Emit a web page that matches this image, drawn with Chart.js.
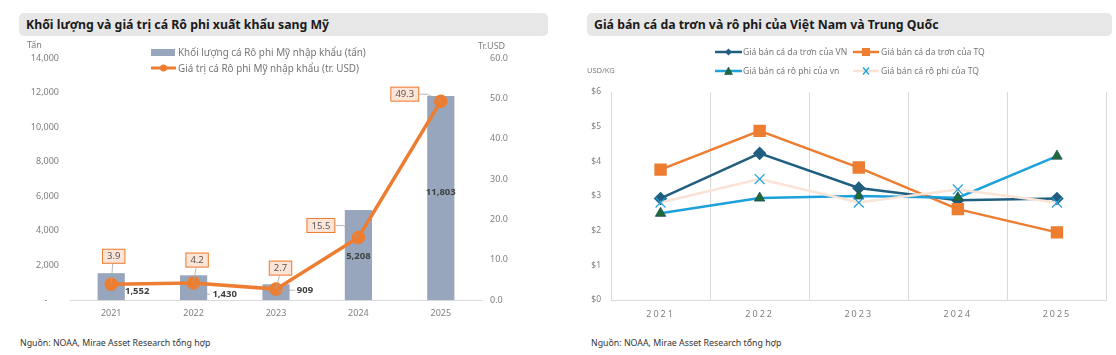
<!DOCTYPE html>
<html>
<head>
<meta charset="utf-8">
<script src="https://cdn.jsdelivr.net/npm/chart.js@4.4.1/dist/chart.umd.min.js"></script>
<style>
  html, body { margin:0; padding:0; background:#ffffff; }
  body { width:1116px; height:355px; position:relative; overflow:hidden; font-family:'Noto Sans', sans-serif; }
  .abs { position:absolute; white-space:nowrap; }
  .titlebar { position:absolute; background:#E7E7E7; border-radius:5px; height:23px; }
  .titlebar span { position:absolute; left:7px; top:3px; font-weight:bold; font-size:12.3px; color:#1a1a1a; }
  .note { font-size:8.8px; color:#333; }
  .axt { font-size:9px; color:#7f7f7f; }
  .leg { font-size:9.5px; color:#767676; line-height:12px; }
  .legL { font-size:9.9px; }
  .legR { font-size:8.6px; }
  canvas { position:absolute; top:0; }
</style>
</head>
<body>
<div class="titlebar" style="left:19px; top:13px; width:529px;"><span>Khối lượng và giá trị cá Rô phi xuất khẩu sang Mỹ</span></div>
<div class="titlebar" style="left:587px; top:13px; width:525px;"><span>Giá bán cá da trơn và rô phi của Việt Nam và Trung Quốc</span></div>

<canvas id="c1" width="558" height="330" style="left:0px;"></canvas>
<canvas id="c2" width="558" height="330" style="left:558px;"></canvas>

<div class="abs axt" style="left:27px; top:38px;">Tấn</div>
<div class="abs axt" style="left:478px; top:39px;">Tr.USD</div>
<div class="abs axt" style="left:587px; top:65px; font-size:7.5px;">USD/KG</div>

<!-- left legend -->
<div class="abs leg legL" style="left:151px; top:45px;">
  <svg width="25" height="10" style="vertical-align:middle"><rect x="0" y="2" width="24" height="7" fill="#97A6BD"/></svg><span style="vertical-align:middle; margin-left:2px;" id="lg1"></span>
</div>
<div class="abs leg legL" style="left:151px; top:61px;">
  <svg width="25" height="10" style="vertical-align:middle"><line x1="0" y1="5" x2="25" y2="5" stroke="#ED7D31" stroke-width="3"/><circle cx="12.5" cy="5" r="3.5" fill="#ED7D31"/></svg><span style="vertical-align:middle; margin-left:2px;" id="lg2"></span>
</div>

<!-- right legend -->
<div class="abs leg legR" style="left:715px; top:45px;">
  <svg width="27" height="10" style="vertical-align:middle"><line x1="0" y1="5" x2="27" y2="5" stroke="#215F80" stroke-width="2.5"/><polygon points="13.5,1.5 17,5 13.5,8.5 10,5" fill="#215F80"/></svg><span style="vertical-align:middle; margin-left:1px;" id="lg3"></span>
</div>
<div class="abs leg legR" style="left:853px; top:45px;">
  <svg width="26" height="10" style="vertical-align:middle"><line x1="0" y1="5" x2="26" y2="5" stroke="#ED7D31" stroke-width="2.5"/><rect x="9" y="1" width="8" height="8" fill="#ED7D31"/></svg><span style="vertical-align:middle; margin-left:2px;" id="lg4"></span>
</div>
<div class="abs leg legR" style="left:715px; top:64px;">
  <svg width="27" height="10" style="vertical-align:middle"><line x1="0" y1="5" x2="27" y2="5" stroke="#1DA1DB" stroke-width="2.5"/><polygon points="13.5,1 17.5,8.5 9.5,8.5" fill="#1E6B35" stroke="#1F4E5F" stroke-width="0.6"/></svg><span style="vertical-align:middle; margin-left:1px;" id="lg5"></span>
</div>
<div class="abs leg legR" style="left:853px; top:64px;">
  <svg width="26" height="10" style="vertical-align:middle"><line x1="0" y1="5" x2="26" y2="5" stroke="#FBE3D6" stroke-width="2.5"/><line x1="10" y1="1.5" x2="16" y2="8.5" stroke="#1DA1DB" stroke-width="1.2"/><line x1="16" y1="1.5" x2="10" y2="8.5" stroke="#1DA1DB" stroke-width="1.2"/></svg><span style="vertical-align:middle; margin-left:2px;" id="lg6"></span>
</div>

<div class="abs note" style="left:20px; top:337px;">Nguồn: NOAA, Mirae Asset Research tổng hợp</div>
<div class="abs note" style="left:591px; top:337px;">Nguồn: NOAA, Mirae Asset Research tổng hợp</div>

<script>
// ---------------- DATA ----------------
const years = ['2021', '2022', '2023', '2024', '2025'];

// Left chart
const volumeLabel = 'Khối lượng cá Rô phi Mỹ nhập khẩu (tấn)';
const valueLabel = 'Giá trị cá Rô phi Mỹ nhập khẩu (tr. USD)';
const volumeTons = [1552, 1430, 909, 5208, 11803];
const valueMillionUSD = [3.9, 4.2, 2.7, 15.5, 49.3];
const volumeTicks = [0, 2000, 4000, 6000, 8000, 10000, 12000, 14000];
const valueTicks = [0, 10, 20, 30, 40, 50, 60];

// Right chart
const seriesNames = [
  'Giá bán cá da trơn của VN',
  'Giá bán cá da trơn của TQ',
  'Giá bán cá rô phi của vn',
  'Giá bán cá rô phi của TQ'
];
const vnCatfish = [2.93, 4.23, 3.23, 2.88, 2.93];
const cnCatfish = [3.76, 4.88, 3.82, 2.62, 1.95];
const vnTilapia = [2.50, 2.94, 3.00, 2.95, 4.15];
const cnTilapia = [2.81, 3.49, 2.81, 3.19, 2.81];
const priceTicks = [0, 1, 2, 3, 4, 5, 6];

// ---------------- STYLE ----------------
document.getElementById('lg1').textContent = volumeLabel;
document.getElementById('lg2').textContent = valueLabel;
['lg3','lg4','lg5','lg6'].forEach((id, i) => document.getElementById(id).textContent = seriesNames[i]);

Chart.defaults.font.family = "'Noto Sans', sans-serif";
Chart.defaults.animation = false;

// label placement (relative offsets in px from the mark)
const valueBoxOffsets = [[2.5, -28], [3.5, -23], [4.5, -21], [-37.5, -12], [-36, -7]];
const volumeLabelOffsets = [[26, 4.5], [31, 6.5], [29, -2], [0, 1], [0, -6]];

const labelPlugin = {
  id: 'labels1',
  afterDatasetsDraw(chart) {
    const ctx = chart.ctx;
    const barMeta = chart.getDatasetMeta(0);
    const lineMeta = chart.getDatasetMeta(1);
    ctx.save();
    // bar value labels
    ctx.font = "bold 9.5px 'Noto Sans', sans-serif";
    ctx.fillStyle = '#404040';
    ctx.textAlign = 'center';
    ctx.textBaseline = 'middle';
    barMeta.data.forEach((bar, i) => {
      const mid = (bar.y + bar.base) / 2;
      const lx = bar.x + volumeLabelOffsets[i][0];
      const ly = mid + volumeLabelOffsets[i][1];
      const txt = volumeTons[i].toLocaleString('en-US');
      if (i === 1 || i === 2) {
        const w = ctx.measureText(txt).width;
        const p = lineMeta.data[i];
        ctx.strokeStyle = '#A6A6A6';
        ctx.lineWidth = 0.8;
        ctx.beginPath();
        ctx.moveTo(p.x + 2, p.y + 2);
        ctx.lineTo(lx - w / 2 - 7, ly);
        ctx.lineTo(lx - w / 2 - 2, ly);
        ctx.stroke();
      }
      ctx.fillText(txt, lx, ly);
    });
    // line value boxes
    ctx.font = "9.5px 'Noto Sans', sans-serif";
    lineMeta.data.forEach((p, i) => {
      const cx = p.x + valueBoxOffsets[i][0];
      const cy = p.y + valueBoxOffsets[i][1];
      const txt = valueMillionUSD[i].toFixed(1);
      const w = ctx.measureText(txt).width + 10;
      const h = 15;
      ctx.strokeStyle = '#A6A6A6';
      ctx.lineWidth = 0.8;
      ctx.beginPath();
      if (i <= 2) {
        ctx.moveTo(cx - 1, cy + h / 2);
        ctx.lineTo(p.x, p.y);
      } else {
        ctx.moveTo(cx + w / 2, cy);
        ctx.lineTo(cx + w / 2 + 8, cy);
        ctx.lineTo(p.x, p.y);
      }
      ctx.stroke();
      ctx.fillStyle = '#FCE4D6';
      ctx.fillRect(cx - w / 2, cy - h / 2, w, h);
      ctx.strokeStyle = '#ED7D31';
      ctx.lineWidth = 1;
      ctx.strokeRect(cx - w / 2 + 0.5, cy - h / 2 + 0.5, w - 1, h - 1);
      ctx.fillStyle = '#595959';
      ctx.fillText(txt, cx, cy + 0.5);
    });
    ctx.restore();
  }
};

new Chart(document.getElementById('c1'), {
  data: {
    labels: years,
    datasets: [
      {
        type: 'bar', label: volumeLabel, data: volumeTons, yAxisID: 'y',
        backgroundColor: '#97A6BD', barPercentage: 0.33, categoryPercentage: 1, order: 1
      },
      {
        type: 'line', label: valueLabel, data: valueMillionUSD, yAxisID: 'y1',
        borderColor: '#ED7D31', backgroundColor: '#ED7D31', borderWidth: 3.5,
        pointRadius: 5, pointHoverRadius: 5, pointBackgroundColor: '#ED7D31',
        pointBorderColor: '#ED7D31', tension: 0, order: 0
      }
    ]
  },
  options: {
    responsive: false, devicePixelRatio: 1,
    layout: { padding: { top: 58, left: 0, right: 36, bottom: 0 } },
    plugins: { legend: { display: false }, tooltip: { enabled: false } },
    scales: {
      x: {
        grid: { display: false, drawTicks: false },
        border: { color: '#D9D9D9', width: 1 },
        ticks: { color: '#7f7f7f', font: { size: 9 }, padding: 8 },
        afterFit(s) { s.height = 30; }
      },
      y: {
        position: 'left', min: volumeTicks[0], max: volumeTicks[volumeTicks.length - 1],
        afterBuildTicks(s) { s.ticks = volumeTicks.map(v => ({ value: v })); },
        ticks: { color: '#7f7f7f', font: { size: 9 }, padding: 11,
          callback: v => v === 0 ? '-     ' : v.toLocaleString('en-US') },
        grid: { display: false, drawTicks: false },
        border: { display: false },
        afterFit(s) { s.width = 70; }
      },
      y1: {
        position: 'right', min: valueTicks[0], max: valueTicks[valueTicks.length - 1],
        afterBuildTicks(s) { s.ticks = valueTicks.map(v => ({ value: v })); },
        ticks: { color: '#7f7f7f', font: { size: 9 }, padding: 8, callback: v => v.toFixed(1) },
        grid: { display: false, drawTicks: false },
        border: { display: false },
        afterFit(s) { s.width = 40; }
      }
    }
  },
  plugins: [labelPlugin]
});

const spacingPlugin = {
  id: 'xspacing',
  beforeDraw(chart) {
    const sx = chart.scales.x;
    if (sx._patched) return;
    const orig = sx.drawLabels.bind(sx);
    sx.drawLabels = function (area) {
      chart.ctx.save();
      chart.ctx.letterSpacing = '2px';
      orig(area);
      chart.ctx.restore();
    };
    sx._patched = true;
  }
};

new Chart(document.getElementById('c2'), {
  type: 'line',
  data: {
    labels: years,
    datasets: [
      { label: seriesNames[0], data: vnCatfish, borderColor: '#215F80', backgroundColor: '#215F80',
        borderWidth: 2.5, pointStyle: 'rectRot', pointRadius: 5, pointHoverRadius: 5,
        pointBackgroundColor: '#215F80', pointBorderColor: '#215F80', tension: 0, order: 3 },
      { label: seriesNames[1], data: cnCatfish, borderColor: '#ED7D31', backgroundColor: '#ED7D31',
        borderWidth: 2.5, pointStyle: 'rect', pointRadius: 7, pointHoverRadius: 7,
        pointBackgroundColor: '#ED7D31', pointBorderColor: '#ED7D31', tension: 0, order: 2 },
      { label: seriesNames[2], data: vnTilapia, borderColor: '#1DA1DB', backgroundColor: '#1E6B35',
        borderWidth: 2.5, pointStyle: 'triangle', pointRadius: 6, pointHoverRadius: 6,
        pointBackgroundColor: '#1E6B35', pointBorderColor: '#1F4E5F', pointBorderWidth: 0.8, tension: 0, order: 1 },
      { label: seriesNames[3], data: cnTilapia, borderColor: '#FBE3D6', backgroundColor: '#1DA1DB',
        borderWidth: 2.5, pointStyle: 'crossRot', pointRadius: 7, pointHoverRadius: 7,
        pointBackgroundColor: '#1DA1DB', pointBorderColor: '#1DA1DB', pointBorderWidth: 1.2, tension: 0, order: 0 }
    ]
  },
  options: {
    responsive: false, devicePixelRatio: 1,
    layout: { padding: { top: 92, left: 0, right: 5, bottom: 0 } },
    plugins: { legend: { display: false }, tooltip: { enabled: false } },
    scales: {
      x: {
        offset: true,
        grid: { display: true, offset: true, color: '#D9D9D9', drawTicks: false },
        border: { color: '#D9D9D9' },
        ticks: { color: '#7f7f7f', font: { size: 9 }, padding: 9 },
        afterFit(s) { s.height = 30; }
      },
      y: {
        min: priceTicks[0], max: priceTicks[priceTicks.length - 1],
        afterBuildTicks(s) { s.ticks = priceTicks.map(v => ({ value: v })); },
        ticks: { color: '#7f7f7f', font: { size: 8.5 }, padding: 10, callback: v => '$' + v },
        grid: { display: false, drawTicks: false },
        border: { color: '#D9D9D9' },
        afterFit(s) { s.width = 53; }
      }
    }
  },
  plugins: [spacingPlugin]
});
</script>
</body>
</html>
